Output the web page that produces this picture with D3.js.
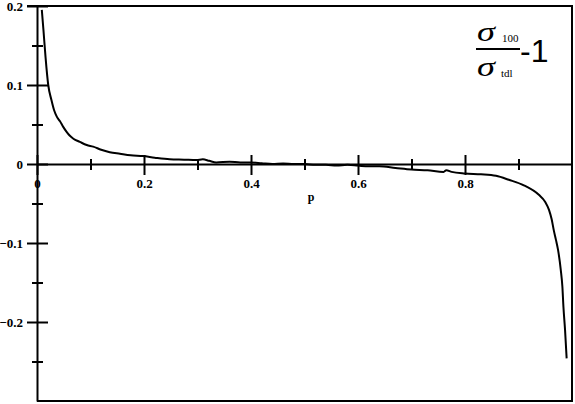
<!DOCTYPE html>
<html>
<head>
<meta charset="utf-8">
<script src="https://cdn.jsdelivr.net/npm/d3@7"></script>
<style>
  body { margin: 0; background: #fff; }
  svg { display: block; }
</style>
</head>
<body>
<div id="chart"></div>
<script>
// values
const pValues = [0.009, 0.012, 0.016, 0.021, 0.027, 0.032, 0.037, 0.043, 0.049, 0.055, 0.061, 0.068, 0.080,
  0.093, 0.105, 0.120, 0.136, 0.155, 0.175, 0.198, 0.220, 0.248, 0.275, 0.298, 0.310, 0.322, 0.335,
  0.36, 0.38, 0.40, 0.42, 0.44, 0.46, 0.48, 0.50, 0.52, 0.54, 0.56, 0.58, 0.60, 0.62, 0.64, 0.67,
  0.70, 0.73, 0.76, 0.765, 0.775, 0.80, 0.83, 0.858, 0.882, 0.91, 0.938, 0.95, 0.957, 0.962, 0.966,
  0.970, 0.974, 0.979, 0.982, 0.984, 0.987, 0.990]
const ratioValues = [0.195, 0.17, 0.135, 0.1, 0.081, 0.068, 0.060, 0.054, 0.047, 0.041, 0.036, 0.032, 0.028,
  0.024, 0.022, 0.018, 0.015, 0.013, 0.011, 0.010, 0.008, 0.006, 0.0055, 0.005, 0.006, 0.004, 0.002,
  0.003, 0.002, 0.002, 0.001, 0.0, 0.0005, 0.0, 0.0, -0.001, -0.001, -0.002, -0.001, -0.002, -0.003, -0.003, -0.005,
  -0.007, -0.008, -0.010, -0.008, -0.010, -0.012, -0.013, -0.015, -0.020, -0.027, -0.039, -0.048, -0.058, -0.07,
  -0.084, -0.096, -0.109, -0.134, -0.155, -0.181, -0.21, -0.246]

const xMajorTicks = [0, 0.2, 0.4, 0.6, 0.8]
const xMinorTicks = [0.1, 0.3, 0.5, 0.7, 0.9]
const yMajorTicks = [0.2, 0.1, 0, -0.1, -0.2]
const yMinorTicks = [0.15, 0.05, -0.05, -0.15, -0.25]

const data = pValues.map((p, i) => ({x: p, y: ratioValues[i]}))

const width = 575
const height = 404

const svg = d3.select("#chart")
  .append("svg")
  .attr("width", width)
  .attr("height", height)

const x = d3.scaleLinear().domain([0, 1]).range([37, 572])
const y = d3.scaleLinear().domain([-0.3, 0.2]).range([401, 6])

const labelFont = "Liberation Serif"

// frame: top, right, bottom
svg.append("path")
  .attr("d", `M${x(0) - 10},${y(0.2)}H${x(1)}V${y(-0.3)}H${x(0)}`)
  .attr("fill", "none")
  .attr("stroke", "#000")
  .attr("stroke-width", 2)

// left axis
const yAxis = svg.append("g")
  .attr("transform", `translate(${x(0)}, 0)`)
  .call(d3.axisLeft(y).tickValues(yMajorTicks).tickSize(0).tickPadding(14))
yAxis.select(".domain").attr("stroke-width", 2)
yAxis.selectAll(".tick line").attr("x1", -10).attr("x2", 11).attr("stroke-width", 2)
yAxis.selectAll(".tick text")
  .attr("font-family", labelFont).attr("font-weight", "bold").attr("font-size", 13)
  .text(d => d === 0 ? "0" : d3.format(".1f")(d))

svg.append("g")
  .attr("transform", `translate(${x(0)}, 0)`)
  .call(d3.axisLeft(y).tickValues(yMinorTicks).tickFormat("").tickSize(0))
  .call(g => g.select(".domain").remove())
  .call(g => g.selectAll(".tick line").attr("x1", -5).attr("x2", 6).attr("stroke-width", 2))

// bottom axis through zero
const xAxis = svg.append("g")
  .attr("transform", `translate(0, ${y(0)})`)
  .call(d3.axisBottom(x).tickValues(xMajorTicks).tickSize(0).tickPadding(15).tickSizeOuter(0))
xAxis.select(".domain").attr("stroke-width", 2)
xAxis.selectAll(".tick line").attr("y1", -9).attr("y2", 11).attr("stroke-width", 2)
xAxis.selectAll(".tick text")
  .attr("font-family", labelFont).attr("font-weight", "bold").attr("font-size", 13)
  .text(d => d === 0 ? "0" : d3.format(".1f")(d))

svg.append("g")
  .attr("transform", `translate(0, ${y(0)})`)
  .call(d3.axisBottom(x).tickValues(xMinorTicks).tickFormat("").tickSize(0))
  .call(g => g.select(".domain").remove())
  .call(g => g.selectAll(".tick line").attr("y1", -5).attr("y2", 6).attr("stroke-width", 2))

svg.append("text")
  .attr("x", 311)
  .attr("y", 201)
  .attr("text-anchor", "middle")
  .attr("font-family", labelFont)
  .attr("font-weight", "bold")
  .attr("font-size", 12)
  .text("p")

// the curve
svg.append("path")
  .datum(data)
  .attr("fill", "none")
  .attr("stroke", "#000")
  .attr("stroke-width", 2)
  .attr("d", d3.line()
    .x(d => x(d.x))
    .y(d => y(d.y))
    .curve(d3.curveMonotoneX))

// formula label
const f = svg.append("g")
f.append("text").attr("transform", "translate(477,41) scale(1.3,1)")
  .attr("font-family", labelFont).attr("font-style", "italic").attr("font-size", 28).text("σ")
f.append("text").attr("x", 502).attr("y", 42)
  .attr("font-family", labelFont).attr("font-size", 11).text("100")
f.append("line").attr("x1", 476).attr("x2", 520).attr("y1", 49).attr("y2", 49)
  .attr("stroke", "#000").attr("stroke-width", 2)
f.append("text").attr("transform", "translate(477,76) scale(1.3,1)")
  .attr("font-family", labelFont).attr("font-style", "italic").attr("font-size", 28).text("σ")
f.append("text").attr("x", 501).attr("y", 77)
  .attr("font-family", labelFont).attr("font-size", 11).text("tdl")
f.append("text").attr("x", 520).attr("y", 62)
  .attr("font-family", "Liberation Sans").attr("font-size", 32).text("-1")
</script>
</body>
</html>
